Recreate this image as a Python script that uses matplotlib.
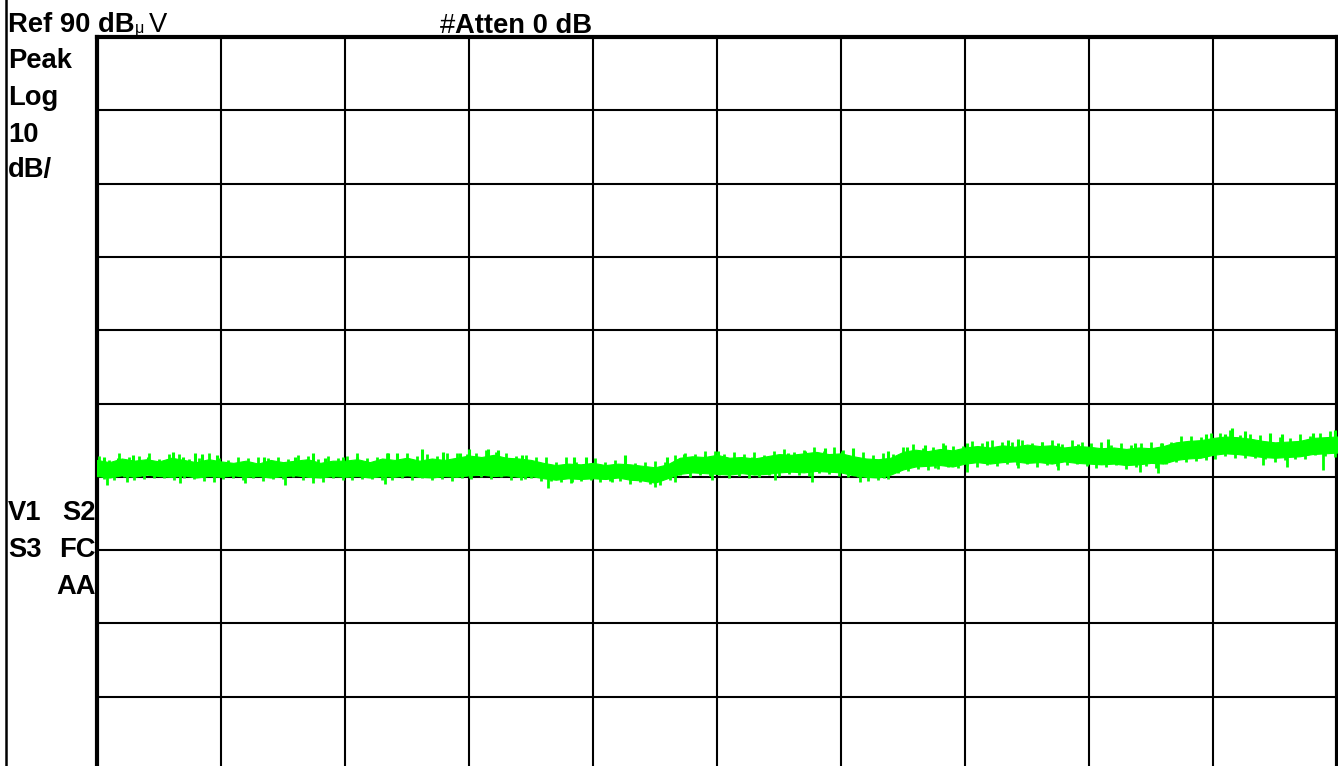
import numpy as np
import matplotlib.pyplot as plt
from matplotlib.lines import Line2D

plt.rcParams['font.family'] = ['Liberation Sans', 'DejaVu Sans']

W, H = 1338, 766

# screen settings (10 dB/div, ref 90 dBuV, 10 horizontal divisions)
ref_level = 90
db_per_div = 10
n_div = 10

# trace band, one value per 0.1 division (solid part of the noise)
trace_upper = [32.3, 32.0, 32.5, 32.2, 32.4, 32.1, 32.6, 32.3, 32.0, 32.4,
               32.1, 31.9, 32.2, 31.8, 32.3, 32.0, 32.2, 32.4, 31.9, 32.2,
               32.2, 32.4, 32.0, 32.5, 32.3, 32.6, 32.2, 32.5, 32.3, 32.6,
               32.9, 32.7, 33.0, 32.6, 32.5, 32.3, 31.9, 31.6, 31.8, 31.7,
               31.9, 31.6, 31.8, 31.7, 31.5, 31.3, 31.7, 32.6, 32.8, 32.7,
               33.0, 32.6, 32.7, 32.5, 32.8, 33.1, 33.0, 33.2, 33.4, 33.1,
               33.2, 32.8, 32.5, 32.4, 32.6, 33.4, 33.7, 33.5, 33.8, 33.6,
               34.0, 34.2, 34.0, 34.3, 34.1, 34.4, 34.2, 34.3, 34.0, 34.2,
               34.1, 33.9, 34.0, 33.8, 34.0, 33.9, 34.2, 34.7, 34.9, 35.0,
               35.3, 35.5, 35.4, 35.2, 34.9, 34.7, 34.8, 34.9, 35.3, 35.4,
               35.5]
trace_lower = [30.1, 29.9, 30.2, 30.0, 30.3, 30.1, 30.0, 30.2, 29.9, 30.1,
               30.0, 30.2, 30.0, 30.1, 29.9, 30.1, 30.2, 30.0, 29.9, 30.1,
               30.0, 30.1, 29.9, 30.1, 30.0, 30.2, 30.0, 29.9, 30.1, 30.0,
               30.2, 30.3, 30.1, 30.2, 30.0, 30.1, 29.8, 29.6, 29.8, 29.7,
               29.8, 29.7, 29.9, 29.6, 29.5, 29.2, 29.8, 30.4, 30.6, 30.5,
               30.4, 30.3, 30.5, 30.3, 30.4, 30.6, 30.7, 30.6, 30.8, 30.7,
               30.6, 30.2, 30.0, 29.9, 30.3, 31.0, 31.4, 31.5, 31.6, 31.4,
               31.8, 32.0, 31.8, 32.0, 32.1, 31.9, 32.0, 31.8, 32.1, 31.9,
               31.8, 31.7, 31.8, 31.6, 31.7, 31.9, 31.8, 32.3, 32.5, 32.6,
               33.0, 33.2, 33.1, 32.9, 32.7, 32.6, 32.7, 32.8, 33.1, 33.2,
               33.3]

# small noise ripple on the band edges, dB beyond the band, every 0.08 div
ripple_up = [0.6, 0.3, 0.8, 0.4, 0.5, 0.9, 0.3, 0.6, 0.7, 0.2,
             0.5, 0.8, 0.4, 0.3, 0.7, 0.5, 0.9, 0.4, 0.6, 0.3,
             0.8, 0.5, 0.4, 0.7, 0.3, 0.6, 0.9, 0.5, 0.4, 0.8,
             0.3, 0.6, 0.5, 0.7, 0.4, 0.9, 0.6, 0.3, 0.5, 0.8,
             0.4, 0.7, 0.3, 0.6, 0.5, 0.8, 0.4, 0.9, 0.3, 0.6,
             0.7, 0.4, 0.5, 0.8, 0.3, 0.6, 0.9, 0.4, 0.7, 0.5,
             0.3, 0.8, 0.6, 0.4, 0.7, 0.5, 0.9, 0.3, 0.6, 0.8,
             0.4, 0.5, 0.7, 0.3, 0.9, 0.6, 0.4, 0.8, 0.5, 0.7,
             0.3, 0.6, 0.9, 0.4, 0.5, 0.8, 0.6, 0.3, 0.7, 0.5,
             0.9, 0.4, 0.6, 0.8, 0.3, 0.5, 0.7, 0.4, 0.9, 0.6,
             0.5, 0.8, 0.3, 0.7, 0.4, 0.6, 0.9, 0.5, 0.3, 0.8,
             0.6, 0.4, 0.7, 0.5, 0.9, 0.3, 0.6, 0.8, 0.4, 0.7,
             0.5, 0.9, 0.3, 0.6, 0.8]
ripple_dn = [0.3, 0.5, 0.2, 0.4, 0.6, 0.3, 0.2, 0.5, 0.4, 0.3,
             0.6, 0.2, 0.4, 0.3, 0.5, 0.2, 0.6, 0.3, 0.4, 0.2,
             0.5, 0.3, 0.6, 0.2, 0.4, 0.5, 0.3, 0.2, 0.6, 0.4,
             0.3, 0.5, 0.2, 0.4, 0.3, 0.6, 0.2, 0.5, 0.3, 0.4,
             0.2, 0.6, 0.4, 0.3, 0.5, 0.2, 0.4, 0.6, 0.3, 0.2,
             0.5, 0.3, 0.4, 0.6, 0.2, 0.3, 0.5, 0.4, 0.2, 0.6,
             0.3, 0.4, 0.2, 0.5, 0.3, 0.6, 0.4, 0.2, 0.5, 0.3,
             0.4, 0.6, 0.2, 0.3, 0.5, 0.4, 0.2, 0.6, 0.3, 0.5,
             0.2, 0.4, 0.3, 0.6, 0.5, 0.2, 0.4, 0.3, 0.6, 0.2,
             0.5, 0.3, 0.4, 0.2, 0.6, 0.3, 0.5, 0.4, 0.2, 0.3,
             0.6, 0.4, 0.2, 0.5, 0.3, 0.4, 0.6, 0.2, 0.3, 0.5,
             0.4, 0.2, 0.6, 0.3, 0.5, 0.4, 0.3, 0.2, 0.6, 0.4,
             0.3, 0.5, 0.2, 0.4, 0.6]

# bigger noise peaks sticking out of the band (division, dBuV)
spike_up_x = [0.06, 0.17, 0.29, 0.41, 0.61, 0.69, 0.79, 0.85, 0.97, 1.35,
              1.60, 1.74, 1.84, 1.98, 2.10, 2.35, 2.42, 2.62, 2.79, 2.93,
              3.00, 3.15, 3.23, 3.43, 3.85, 3.94, 4.26, 4.60, 4.73, 4.90,
              5.01, 5.28, 5.57, 5.71, 5.87, 6.01, 6.10, 6.38, 6.53, 6.68,
              6.84, 7.02, 7.18, 7.35, 7.43, 7.62, 7.75, 7.91, 8.15, 8.37,
              8.59, 8.81, 8.94, 9.10, 9.15, 9.26, 9.46, 9.56, 9.81, 9.98]
spike_up_y = [32.7, 32.6, 33.0, 32.7, 33.4, 32.7, 33.2, 33.1, 33.0, 32.7,
              32.7, 33.2, 32.6, 32.7, 32.7, 33.2, 33.2, 33.8, 33.4, 33.2,
              33.8, 33.8, 33.7, 33.0, 32.7, 32.7, 33.0, 32.7, 33.1, 33.0,
              33.5, 32.7, 33.2, 33.5, 33.9, 33.5, 33.9, 33.5, 34.1, 34.3,
              34.3, 34.6, 34.9, 35.0, 35.2, 34.7, 34.6, 34.5, 35.2, 34.6,
              34.6, 34.7, 35.8, 35.8, 36.7, 36.2, 36.0, 35.8, 36.0, 36.4]
spike_dn_x = [0.08, 0.24, 0.67, 0.94, 1.19, 1.52, 1.74, 2.32, 3.01, 3.45,
              3.64, 3.83, 4.15, 4.50, 4.66, 4.96, 5.47, 5.77, 6.15, 6.35,
              6.76, 7.02, 7.43, 7.75, 8.09, 8.41, 8.56, 8.94, 9.40, 9.60,
              9.89]
spike_dn_y = [28.9, 29.3, 29.2, 29.3, 29.2, 28.9, 29.2, 29.0, 29.8, 29.7,
              28.5, 29.3, 29.3, 28.6, 29.3, 29.6, 29.6, 29.3, 29.3, 29.8,
              31.2, 30.7, 31.2, 30.9, 31.8, 30.7, 30.5, 32.3, 31.6, 31.4,
              30.9]

freq = np.linspace(0, n_div, len(trace_upper))
upper = np.array(trace_upper)
lower = np.array(trace_lower)
mid = 0.5 * (upper + lower)
rip_x_up = np.arange(len(ripple_up)) * 0.08 + 0.02
rip_x_dn = np.arange(len(ripple_dn)) * 0.08 + 0.06

fig = plt.figure(figsize=(W / 100, H / 100), dpi=100)
# graticule runs a few pixels past the bottom of the screenshot
ax = fig.add_axes([97 / W, 1 - 770 / H, 1240 / W, 733 / H])
ax.set_xlim(0, n_div)
ax.set_ylim(ref_level - 10 * db_per_div, ref_level)
ax.set_xticks(range(n_div + 1))
ax.set_yticks(range(ref_level - 10 * db_per_div, ref_level + 1, db_per_div))
ax.tick_params(length=0, labelbottom=False, labelleft=False)
ax.grid(True, color='black', lw=1.5)
for side in ['top', 'left', 'right']:
    ax.spines[side].set_linewidth(3)
ax.spines['bottom'].set_visible(False)

green = '#00ff00'
ax.fill_between(freq, lower, upper, color=green, lw=0.8, zorder=3)
ax.vlines(rip_x_up, np.interp(rip_x_up, freq, mid),
          np.interp(rip_x_up, freq, upper) + np.array(ripple_up),
          color=green, lw=2.0, zorder=3)
ax.vlines(rip_x_dn, np.interp(rip_x_dn, freq, mid),
          np.interp(rip_x_dn, freq, lower) - np.array(ripple_dn),
          color=green, lw=2.0, zorder=3)
ax.vlines(spike_up_x, np.interp(spike_up_x, freq, mid), spike_up_y,
          color=green, lw=2.2, zorder=3)
ax.vlines(spike_dn_x, np.interp(spike_dn_x, freq, mid), spike_dn_y,
          color=green, lw=2.0, zorder=3)

# annotation text, placed in screen pixels
fs = 19.7


def put(x, y, s, weight='bold', size=fs, ha='left'):
    fig.text(x / W, 1 - y / H, s, fontsize=size, fontweight=weight,
             ha=ha, va='baseline')


put(8, 32, 'Ref 90 dB')
put(135, 33, 'μ', weight='normal', size=11.5)
put(149, 32, 'V', weight='normal')
put(440, 33, '#', weight='normal')
put(455, 33, 'Atten 0 dB')
for s, yb in zip(['Peak', 'Log', '10', 'dB/'], [68, 105, 142, 177]):
    put(8, yb, s)
put(8, 520, 'V1')
put(96, 520, 'S2', ha='right')
put(8, 557, 'S3')
put(96, 557, 'FC', ha='right')
put(96, 594, 'AA', ha='right')

# left edge of the screen
fig.add_artist(Line2D([5.5 / W] * 2, [0, 1], color='black', lw=1.8,
                      transform=fig.transFigure))

fig.savefig('out.png', dpi=100)
